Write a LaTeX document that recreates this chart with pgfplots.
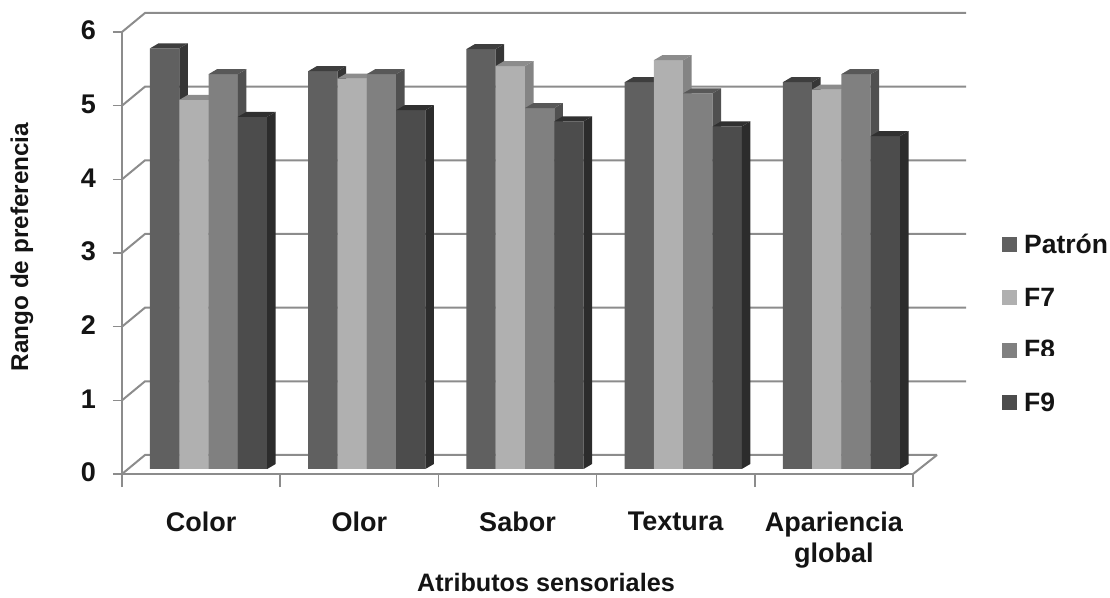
\documentclass[border=0pt]{standalone}
\usepackage{pgfplots}
\pgfplotsset{compat=1.18}
\usepackage{fontspec}
\setmainfont{Liberation Sans}
\definecolor{pa}{HTML}{606060}\definecolor{pas}{HTML}{363636}\definecolor{pat}{HTML}{3E3E3E}
\definecolor{fs}{HTML}{B0B0B0}\definecolor{fss}{HTML}{848484}\definecolor{fst}{HTML}{8C8C8C}
\definecolor{fo}{HTML}{808080}\definecolor{fos}{HTML}{505050}\definecolor{fot}{HTML}{585858}
\definecolor{fn}{HTML}{4C4C4C}\definecolor{fns}{HTML}{2C2C2C}\definecolor{fnt}{HTML}{303030}
\definecolor{ax}{HTML}{8C8C8C}\definecolor{tx}{HTML}{141414}
\newcommand{\barfaces}[5]{%
 \pgfmathsetmacro\xl{#1+(#2)/158.2}%
 \pgfmathsetmacro\xr{#1+(#2+29.3)/158.2}%
 \pgfmathsetmacro\xlb{#1+(#2+8.5)/158.2}%
 \pgfmathsetmacro\xrb{#1+(#2+37.8)/158.2}%
 \pgfmathsetmacro\vb{#3+0.068}%
 \addplot[forget plot,fill=#4,draw=none] coordinates {(\xr,0)(\xrb,0.068)(\xrb,\vb)(\xr,#3)} -- cycle;
 \addplot[forget plot,fill=#5,draw=none] coordinates {(\xl,#3)(\xlb,\vb)(\xrb,\vb)(\xr,#3)} -- cycle;
}
\newcommand{\wall}[2]{%
 \pgfmathsetmacro\vb{#1+0.258}%
 \addplot[forget plot,ax,line width=2pt] coordinates {(0,#1)(0.1454,\vb)(#2,\vb)};
}
\begin{document}
\begin{tikzpicture}[x=1pt,y=1pt]
\useasboundingbox (0,0) rectangle (1110,597);
\begin{axis}[
 at={(122pt,123pt)},anchor=south west,
 scale only axis,width=791pt,height=442pt,
 xmin=0,xmax=5,ymin=-0.068,ymax=5.932,clip=false,
 axis x line*=bottom,axis y line*=left,
 axis line style={ax,line width=2pt,-},
 xtick={0.5,1.5,2.5,3.5,4.5},
 xticklabels={Color,Olor,Sabor,Textura,Apariencia\\global},
 major x tick style={draw=none},
 minor xtick={0,1,2,3,4,5},
 minor tick length=13pt,
 minor x tick style={ax,line width=1.5pt},
 x tick label style={font=\bfseries\fontsize{27}{31}\selectfont,text=tx,align=center,anchor=north,inner sep=0pt,yshift=-29pt},
 ytick={-0.068,0.932,1.932,2.932,3.932,4.932,5.932},
 yticklabels={0,1,2,3,4,5,6},
 y tick label style={font=\bfseries\fontsize{27}{30}\selectfont,text=tx,anchor=east,inner sep=0pt,xshift=-17pt,yshift=1.5pt},
 major y tick style={ax,line width=1.5pt},
 tick align=outside,major tick length=9pt,
 xlabel={Atributos sensoriales},
 ylabel={Rango de preferencia},
 x label style={font=\bfseries\fontsize{25.2}{28}\selectfont,text=tx,at={(rel axis cs:0.536,0)},anchor=base,inner sep=0pt,yshift=-117pt},
 y label style={font=\bfseries\fontsize{24.3}{28}\selectfont,text=tx,at={(rel axis cs:0,0.5)},anchor=center,yshift=100pt,xshift=6pt},
 mybar/.style={ybar,bar width=29.3pt,draw=none,legend image code/.code={\fill[##1] (0pt,-7.5pt) rectangle (15pt,7.5pt);}},
 legend style={draw=none,fill=none,at={(rel axis cs:1.1125,0.547)},anchor=north west,row sep=28.5pt,inner sep=0pt,font=\bfseries\fontsize{26.5}{30}\selectfont,text=tx,/tikz/every odd column/.append style={column sep=5pt}},
 legend cell align=left,
]
\wall{0.932}{5.335}\wall{1.932}{5.335}\wall{2.932}{5.335}\wall{3.932}{5.335}\wall{4.932}{5.335}\wall{5.932}{5.335}\wall{-0.068}{5.1517}
\addplot[forget plot,ax,line width=2pt] coordinates {(5,-0.068)(5.1517,0.19)};

\addplot[mybar,fill=pa,bar shift=-36.45pt] coordinates {(0.5,5.71)(1.5,5.40)(2.5,5.70)(3.5,5.25)(4.5,5.25)};
\barfaces{0}{28}{5.71}{pas}{pat}\barfaces{1}{28}{5.40}{pas}{pat}\barfaces{2}{28}{5.70}{pas}{pat}\barfaces{3}{28}{5.25}{pas}{pat}\barfaces{4}{28}{5.25}{pas}{pat}
\addplot[mybar,fill=fs,bar shift=-7.15pt] coordinates {(0.5,5.01)(1.5,5.30)(2.5,5.47)(3.5,5.55)(4.5,5.15)};
\barfaces{0}{57.3}{5.01}{fss}{fst}\barfaces{1}{57.3}{5.30}{fss}{fst}\barfaces{2}{57.3}{5.47}{fss}{fst}\barfaces{3}{57.3}{5.55}{fss}{fst}\barfaces{4}{57.3}{5.15}{fss}{fst}
\addplot[mybar,fill=fo,bar shift=22.15pt] coordinates {(0.5,5.36)(1.5,5.36)(2.5,4.90)(3.5,5.10)(4.5,5.36)};
\barfaces{0}{86.6}{5.36}{fos}{fot}\barfaces{1}{86.6}{5.36}{fos}{fot}\barfaces{2}{86.6}{4.90}{fos}{fot}\barfaces{3}{86.6}{5.10}{fos}{fot}\barfaces{4}{86.6}{5.36}{fos}{fot}
\addplot[mybar,fill=fn,bar shift=51.45pt] coordinates {(0.5,4.78)(1.5,4.87)(2.5,4.72)(3.5,4.65)(4.5,4.52)};
\barfaces{0}{115.9}{4.78}{fns}{fnt}\barfaces{1}{115.9}{4.87}{fns}{fnt}\barfaces{2}{115.9}{4.72}{fns}{fnt}\barfaces{3}{115.9}{4.65}{fns}{fnt}\barfaces{4}{115.9}{4.52}{fns}{fnt}
\legend{Patrón,F7,F8,F9}
\end{axis}
\fill[white] (1020,229) rectangle (1075,241);
\end{tikzpicture}
\end{document}
